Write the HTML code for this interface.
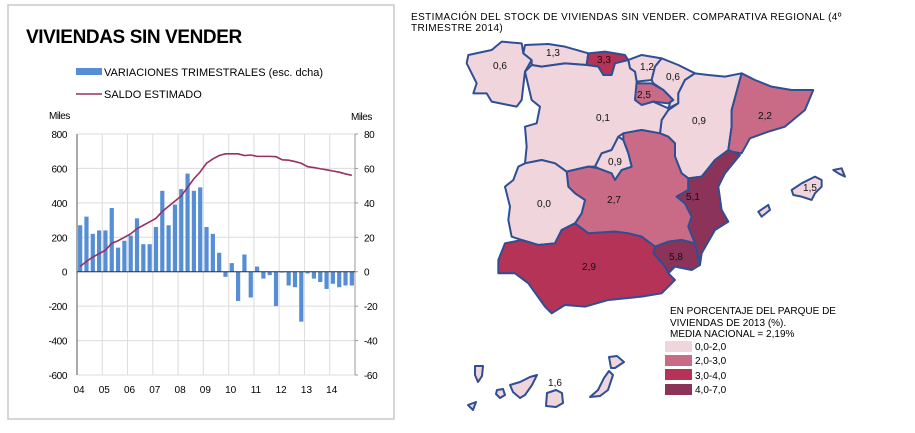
<!DOCTYPE html>
<html><head><meta charset="utf-8">
<style>
body{margin:0;background:#fff;width:915px;height:428px;overflow:hidden;font-family:"Liberation Sans",sans-serif;}
svg text{font-family:"Liberation Sans",sans-serif;}
</style></head>
<body>
<svg id="root" width="915" height="428" viewBox="0 0 915 428" xmlns="http://www.w3.org/2000/svg">
  <rect x="8" y="5" width="386" height="414" fill="#fff" stroke="#c8c8c8" stroke-width="1.5"/>
  <text x="26" y="43" font-size="19" font-weight="bold" letter-spacing="-0.4" fill="#000">VIVIENDAS SIN VENDER</text>
  <g>
    <rect x="76" y="68" width="26" height="7" fill="#558ed5"/>
    <text x="104" y="76" font-size="11" letter-spacing="0">VARIACIONES TRIMESTRALES (esc. dcha)</text>
    <line x1="76" y1="94" x2="102" y2="94" stroke="#953163" stroke-width="1.5"/>
    <text x="104" y="98" font-size="11" letter-spacing="0">SALDO  ESTIMADO</text>
  </g>
  <text x="49" y="119" font-size="10" letter-spacing="-0.5">Miles</text>
  <text x="351" y="120" font-size="10" letter-spacing="-0.5">Miles</text>
  <g id="chart"></g>

  <text x="411" y="20" font-size="10" letter-spacing="0.4">ESTIMACIÓN  DEL STOCK  DE VIVIENDAS SIN VENDER. COMPARATIVA  REGIONAL  (4º</text>
  <text x="411" y="31" font-size="10" letter-spacing="0.4">TRIMESTRE  2014)</text>

  <g id="map" transform="translate(455,40) scale(0.3333)" stroke="#2f4f93" stroke-width="6" stroke-linejoin="round">
    <polygon fill="#f0d5dd" points="40,45 110,30 140,5 200,10 205,40 230,60 210,95 200,180 185,200 160,195 110,185 95,160 55,160 65,130 50,100 35,70"/>
    <polygon fill="#f0d5dd" points="205,40 210,15 280,12 330,20 400,40 395,75 330,70 260,80 230,75 230,60"/>
    <polygon fill="#b53356" points="400,40 450,35 510,45 520,60 480,70 470,105 445,105 430,80 395,75"/>
    <polygon fill="#f0d5dd" points="520,60 560,45 620,55 600,80 590,120 545,125 540,95 525,85"/>
    <polygon fill="#f0d5dd" points="620,55 670,75 720,100 690,120 670,160 670,190 640,205 650,175 625,150 595,130 590,120 600,80"/>
    <polygon fill="#c96b87" points="540,130 590,130 625,150 655,180 640,190 595,185 560,195 540,180"/>
    <polygon fill="#f0d5dd" points="720,100 760,105 810,110 860,100 830,210 830,260 820,330 780,360 760,385 740,410 700,415 680,400 660,350 660,310 640,290 615,280 620,240 640,210 670,190 670,160 690,120"/>
    <polygon fill="#c96b87" points="860,100 900,120 950,140 1010,150 1075,150 1050,210 990,260 940,275 885,295 860,340 830,335 820,330 830,260 830,210"/>
    <polygon fill="#f0d5dd" points="230,75 260,80 330,70 395,75 430,80 445,105 470,105 480,70 520,60 525,85 540,95 545,125 540,180 560,195 595,185 640,205 640,210 620,240 615,280 560,270 505,280 490,290 470,330 440,340 420,380 400,380 335,395 300,370 260,360 210,370 215,320 210,260 245,250 255,200 230,180 210,95"/>
    <polygon fill="#c96b87" points="505,280 560,270 615,280 640,290 660,310 660,350 680,400 700,415 700,450 665,470 690,490 710,530 700,560 720,610 680,600 640,605 600,620 560,590 520,580 480,575 400,580 360,550 380,520 390,480 360,460 340,440 335,395 400,380 430,385 470,400 500,390 530,380 520,340 505,300"/>
    <polygon fill="#f0d5dd" points="440,340 470,330 490,290 505,300 520,340 530,380 500,390 480,420 470,400 430,385 420,380 430,360"/>
    <polygon fill="#8b3359" points="820,330 855,345 810,400 790,440 800,510 820,545 780,570 740,640 735,675 720,610 700,560 710,530 690,490 665,470 700,450 700,415 740,410 760,385 780,360"/>
    <polygon fill="#8b3359" points="720,610 735,675 710,690 660,680 640,700 630,680 595,640 600,620 640,605 680,600"/>
    <polygon fill="#f0d5dd" points="210,370 260,360 300,370 335,395 340,440 360,460 390,480 380,520 360,550 320,570 300,610 250,615 200,600 170,590 160,540 165,500 150,440 175,420 190,380"/>
    <polygon fill="#b53356" points="150,610 200,600 250,615 300,610 320,570 360,550 400,580 480,575 520,580 560,590 600,620 595,640 630,680 640,700 660,720 620,760 560,770 460,780 390,800 330,795 290,820 270,800 220,730 180,700 130,700 130,660"/>
    <polygon fill="#f0d5dd" points="1010,450 1040,430 1080,410 1100,420 1100,440 1080,460 1070,480 1040,470 1015,465"/>
    <polygon fill="#f0d5dd" points="1135,390 1160,385 1170,410 1150,400"/>
    <polygon fill="#f0d5dd" points="910,515 940,495 945,510 920,530"/>
  </g>
  <g stroke="#2f4f93" stroke-width="2" stroke-linejoin="round" fill="#f0d5dd">
    <polygon points="475,366 483,366 482,376 478,382 475,375"/>
    <polygon points="497,390 503,389 505,395 500,398 496,394"/>
    <polygon points="510,385 520,382 530,377 537,375 532,385 525,395 520,398 513,392"/>
    <polygon points="468,405 476,402 473,410"/>
    <polygon points="547,393 556,390 562,393 563,403 556,407 546,406"/>
    <polygon points="609,371 613,375 608,390 600,396 590,397 598,390 604,378"/>
    <polygon points="609,357 617,356 624,362 615,368 611,368"/>
  </g>
  <g font-size="10" fill="#111" text-anchor="middle">
    <text x="500" y="69">0,6</text>
    <text x="553" y="56">1,3</text>
    <text x="604" y="63">3,3</text>
    <text x="647" y="70">1,2</text>
    <text x="673" y="80">0,6</text>
    <text x="644" y="98">2,5</text>
    <text x="603" y="121">0,1</text>
    <text x="699" y="124">0,9</text>
    <text x="765" y="119">2,2</text>
    <text x="615" y="165">0,9</text>
    <text x="614" y="203">2,7</text>
    <text x="544" y="207">0,0</text>
    <text x="693" y="200">5,1</text>
    <text x="676" y="260">5,8</text>
    <text x="589" y="270">2,9</text>
    <text x="810" y="191">1,5</text>
    <text x="555" y="386">1,6</text>
  </g>
  <g font-size="10" letter-spacing="0">
    <text x="670" y="314">EN PORCENTAJE DEL PARQUE DE</text>
    <text x="670" y="326">VIVIENDAS DE 2013 (%).</text>
    <text x="670" y="337">MEDIA NACIONAL = 2,19%</text>
    <rect x="665" y="341" width="27" height="11" fill="#f0d5dd"/>
    <text x="695" y="350">0,0-2,0</text>
    <rect x="665" y="355" width="27" height="11" fill="#c96b87"/>
    <text x="695" y="364">2,0-3,0</text>
    <rect x="665" y="369" width="27" height="11" fill="#b53356"/>
    <text x="695" y="379">3,0-4,0</text>
    <rect x="665" y="384" width="27" height="11" fill="#8b3359"/>
    <text x="695" y="393">4,0-7,0</text>
  </g>
</svg>
<script>
const years = ["04","05","06","07","08","09","10","11","12","13","14"];
const leftTicks = [800,600,400,200,0,-200,-400,-600];
const rightTicks = [80,60,40,20,0,-20,-40,-60];
const quarterlyChange = [27,32,22,24,24,37,14,18,21,31,16,16,26,47,27,39,48,57,47,49,26,22,11,-3,5,-17,10,-15,3,-4,-2,-20,-0.5,-8,-9,-29,-1,-4,-6,-10,-7,-9,-8,-8];
const estimatedStock = [30,60,85,105,125,165,180,200,220,250,270,290,310,350,380,410,440,490,540,580,630,655,675,685,685,685,675,678,670,670,670,668,650,648,640,630,610,605,598,592,585,578,568,560];

const NS = "http://www.w3.org/2000/svg";
const g = document.getElementById("chart");
const X0 = 77, X1 = 355, YT = 134, YB = 375;
const yL = v => YB - (v + 600) / 1400 * (YB - YT);
const yR = v => YB - (v + 60) / 140 * (YB - YT);
const band = (X1 - X0) / quarterlyChange.length;
const xQ = i => X0 + band * (i + 0.5);
const xYear = i => X0 + (X1 - X0) / years.length * i;
function mk(tag, attrs) { const e = document.createElementNS(NS, tag); for (const k in attrs) e.setAttribute(k, attrs[k]); g.appendChild(e); return e; }

leftTicks.forEach((t, i) => {
  const l = mk("line", {x1: X0, x2: X1, y1: yL(t), y2: yL(t), stroke: "#dcdcdc", "stroke-width": 1});
  
  
  const tl = mk("text", {x: 67, y: yL(t) + 4, "font-size": 10, "text-anchor": "end", "letter-spacing": "-0.4"});
  tl.textContent = t;
  
  
  const tr = mk("text", {x: 364, y: yR(rightTicks[i]) + 4, "font-size": 10, "letter-spacing": "-0.4"});
  tr.textContent = rightTicks[i];
  
  
  const tk = mk("line", {x1: X1, x2: X1 + 3, y1: yR(rightTicks[i]), y2: yR(rightTicks[i]), stroke: "#999"});
  
  
});
for (let i = 0; i <= years.length; i++) {
  const l = mk("line", {x1: xYear(i), x2: xYear(i), y1: YT, y2: YB, stroke: "#dcdcdc", "stroke-width": 1});
  
  
}
years.forEach((y, i) => {
  const t = mk("text", {x: xYear(i) + 2, y: 393, "font-size": 10, "text-anchor": "middle"});
  t.textContent = y;
  
  
});
const la = mk("line", {x1: X0, x2: X0, y1: YT, y2: YB, stroke: "#555", "stroke-width": 1});


const ra = mk("line", {x1: X1, x2: X1, y1: YT, y2: YB, stroke: "#999", "stroke-width": 1});


quarterlyChange.forEach((v, i) => {
  const y0 = yR(0), y1 = yR(v);
  const b = mk("rect", {x: xQ(i) - 2.1, width: 4.2, y: Math.min(y0, y1), height: Math.max(0.5, Math.abs(y1 - y0)), fill: "#558ed5"});
  
  
});
const z = mk("line", {x1: X0, x2: X1, y1: yL(0), y2: yL(0), stroke: "#333", "stroke-width": 1});


const pts = estimatedStock.map((v, i) => xQ(i) + "," + yL(v)).join(" ");
const pl = mk("polyline", {points: pts, fill: "none", stroke: "#953163", "stroke-width": 1.6});


</script>
</body></html>
